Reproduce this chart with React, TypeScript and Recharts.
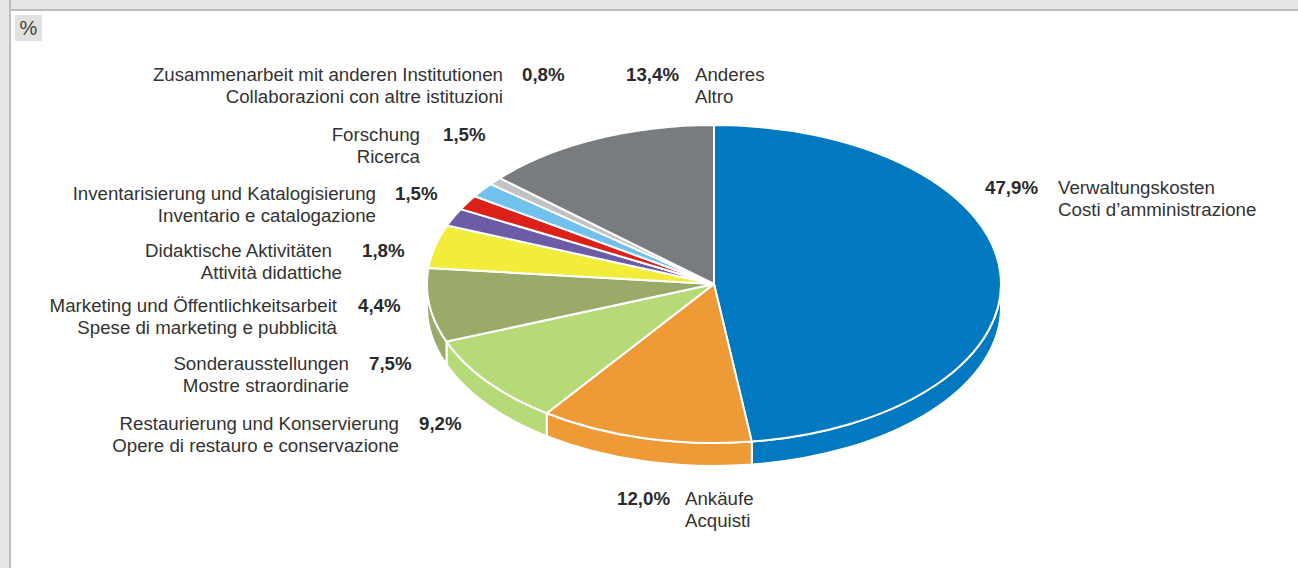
import { PieChart, Pie } from 'recharts'

const labelsDe = [
  'Verwaltungskosten',
  'Ankäufe',
  'Restaurierung und Konservierung',
  'Sonderausstellungen',
  'Marketing und Öffentlichkeitsarbeit',
  'Didaktische Aktivitäten',
  'Inventarisierung und Katalogisierung',
  'Forschung',
  'Zusammenarbeit mit anderen Institutionen',
  'Anderes',
]
const labelsIt = [
  'Costi d’amministrazione',
  'Acquisti',
  'Opere di restauro e conservazione',
  'Mostre straordinarie',
  'Spese di marketing e pubblicità',
  'Attività didattiche',
  'Inventario e catalogazione',
  'Ricerca',
  'Collaborazioni con altre istituzioni',
  'Altro',
]
const shares = [47.9, 12.0, 9.2, 7.5, 4.4, 1.8, 1.5, 1.5, 0.8, 13.4]
const sliceColors = [
  '#0079c1', '#ee9a36', '#b7da79', '#99aa69', '#f2ec3a',
  '#6b5ca5', '#db2119', '#71c1ec', '#c0c2c4', '#797c7f',
]

// where each label sits: text edge, percent start, first baseline
const labelSpots = [
  { textX: 1058, deX: 1058, anchor: 'start', pctX: 985, y: 194 },
  { textX: 685, deX: 685, anchor: 'start', pctX: 617, y: 505 },
  { textX: 399, deX: 399, anchor: 'end', pctX: 419, y: 430 },
  { textX: 349, deX: 349, anchor: 'end', pctX: 369, y: 370 },
  { textX: 337, deX: 337, anchor: 'end', pctX: 358, y: 312 },
  { textX: 342, deX: 332, anchor: 'end', pctX: 362, y: 257 },
  { textX: 376, deX: 376, anchor: 'end', pctX: 395, y: 200 },
  { textX: 420, deX: 420, anchor: 'end', pctX: 443, y: 141 },
  { textX: 503, deX: 503, anchor: 'end', pctX: 522, y: 81 },
  { textX: 695, deX: 695, anchor: 'start', pctX: 626, y: 81 },
]

const WIDTH = 1298
const HEIGHT = 568
const CX = 714
const CY = 284
const RX = 287
const RY = 159
const DEPTH = 23
const FONT = '"Liberation Sans", Arial, sans-serif'

const chartData = shares.map((value, i) => ({
  name: labelsDe[i],
  value,
  fill: sliceColors[i],
}))

const pointAt = (deg: number, dy = 0) => {
  const t = (deg * Math.PI) / 180
  return `${CX + RX * Math.cos(t)} ${CY + dy - RY * Math.sin(t)}`
}

// flat circle seen at an angle: same sector angles, squashed to an ellipse
function TopSlice(props: any) {
  const { startAngle, endAngle, fill } = props
  const large = Math.abs(endAngle - startAngle) > 180 ? 1 : 0
  const d = `M ${CX} ${CY} L ${pointAt(startAngle)} A ${RX} ${RY} 0 ${large} 1 ${pointAt(endAngle)} Z`
  return <path d={d} fill={fill} stroke="#fff" strokeWidth={2} strokeLinejoin="round" />
}

// side wall, only the part of a slice that faces the viewer (angles -180..0)
function WallSlice(props: any) {
  const { startAngle, endAngle, fill } = props
  const from = Math.min(startAngle, 0)
  const to = Math.max(endAngle, -180)
  if (from <= to) return <g />
  const large = from - to > 180 ? 1 : 0
  const d = [
    `M ${pointAt(from)}`,
    `A ${RX} ${RY} 0 ${large} 1 ${pointAt(to)}`,
    `L ${pointAt(to, DEPTH)}`,
    `A ${RX} ${RY} 0 ${large} 0 ${pointAt(from, DEPTH)}`,
    'Z',
  ].join(' ')
  return <path d={d} fill={fill} stroke="#fff" strokeWidth={2} strokeLinejoin="round" />
}

function SliceLabel(props: any) {
  const { index } = props
  const spot = labelSpots[index]
  const common = { fontFamily: FONT, fontSize: 18.7, fill: '#333' }
  return (
    <g>
      <text {...common} x={spot.pctX} y={spot.y} fontWeight={700} fill="#2b2b2b">
        {shares[index].toFixed(1).replace('.', ',')}%
      </text>
      <text {...common} x={spot.deX} y={spot.y} textAnchor={spot.anchor as any}>
        {labelsDe[index]}
      </text>
      <text {...common} x={spot.textX} y={spot.y + 22} textAnchor={spot.anchor as any}>
        {labelsIt[index]}
      </text>
    </g>
  )
}

export default function App() {
  return (
    <div style={{ position: 'absolute', left: 0, top: 0, width: WIDTH, height: HEIGHT, background: '#fff', overflow: 'hidden' }}>
      <div style={{ position: 'absolute', left: 0, top: 0, width: WIDTH, height: 9, background: '#e6e6e6', borderBottom: '2px solid #bdbdbd' }} />
      <div style={{ position: 'absolute', left: 0, top: 0, width: 9, height: HEIGHT, background: '#e6e6e6', borderRight: '2px solid #bdbdbd' }} />
      <div
        style={{
          position: 'absolute', left: 15, top: 15, width: 27, height: 26, background: '#e2e2e0',
          fontFamily: FONT, fontSize: 20, color: '#444', textAlign: 'center', lineHeight: '27px',
        }}
      >
        %
      </div>
      <div style={{ position: 'absolute', left: 0, top: 0 }}>
        <PieChart width={WIDTH} height={HEIGHT} margin={{ top: 0, right: 0, bottom: 0, left: 0 }}>
          <Pie
            data={chartData}
            dataKey="value"
            cx={CX}
            cy={CY}
            outerRadius={RX}
            startAngle={90}
            endAngle={-270}
            shape={WallSlice}
            isAnimationActive={false}
          />
          <Pie
            data={chartData}
            dataKey="value"
            cx={CX}
            cy={CY}
            outerRadius={RX}
            startAngle={90}
            endAngle={-270}
            shape={TopSlice}
            label={SliceLabel}
            labelLine={false}
            isAnimationActive={false}
          />
        </PieChart>
      </div>
    </div>
  )
}
